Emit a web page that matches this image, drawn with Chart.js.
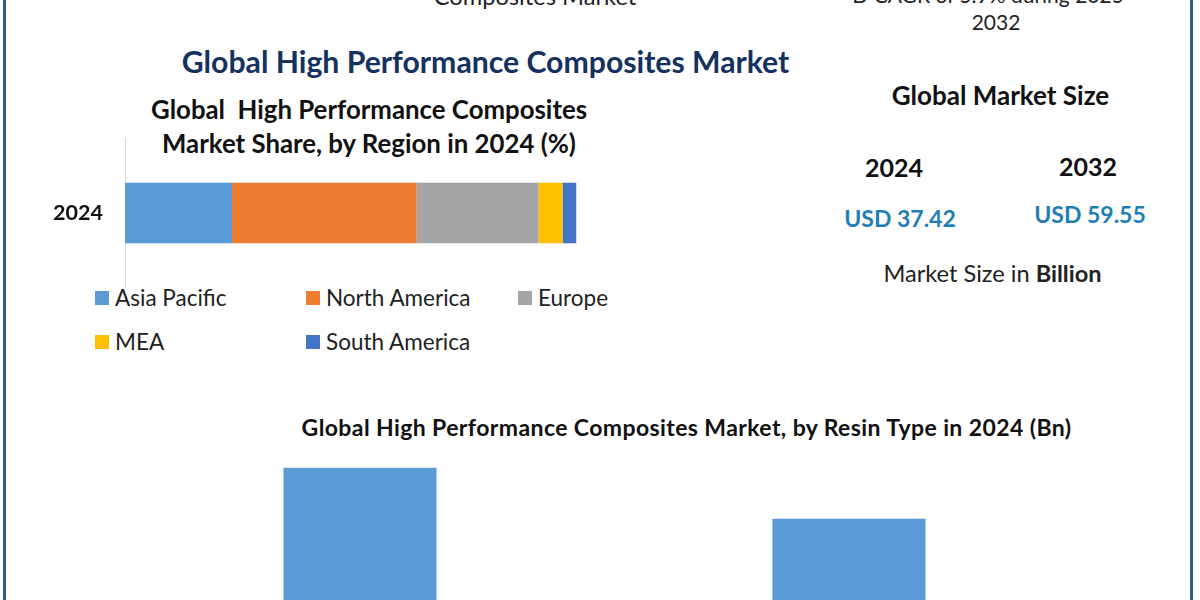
<!DOCTYPE html>
<html>
<head>
<meta charset="utf-8">
<script src="https://cdn.jsdelivr.net/npm/chart.js@4"></script>
<style>
  html, body { margin: 0; padding: 0; width: 1200px; height: 600px; overflow: hidden; background: #fff; }
  body { position: relative; font-family: Lato, sans-serif; color: #222; }
  .frame { position: absolute; top: 0; width: 3px; height: 600px; background: #2f5f82; }
  .txt { position: absolute; white-space: nowrap; transform: translate(-50%, -50%); }
  .lg { position: absolute; width: 14px; height: 14px; transform: translateY(-50%); }
  canvas { position: absolute; }
</style>
</head>
<body>
<div class="frame" style="left:3px"></div>
<div class="frame" style="left:1190px"></div>

<div class="txt" style="left:535px;top:-4px;font-size:23.7px">Composites Market</div>
<div class="txt" style="left:992px;top:-6px;font-size:21px">D CAGR of 5.9% during 2025-</div>
<div class="txt" style="left:996px;top:21px;font-size:21px">2032</div>
<div class="txt" style="left:485.5px;top:61px;font-size:30.2px;font-weight:700;color:#14315f">Global High Performance Composites Market</div>
<div class="txt" style="left:1000.5px;top:95px;font-size:26px;font-weight:700;color:#111">Global Market Size</div>
<div class="txt" style="left:894px;top:167px;font-size:25px;font-weight:700;color:#111">2024</div>
<div class="txt" style="left:1088px;top:166px;font-size:25px;font-weight:700;color:#111">2032</div>
<div class="txt" style="left:900px;top:218px;font-size:23px;font-weight:700;color:#1f7fb5">USD 37.42</div>
<div class="txt" style="left:1090px;top:214px;font-size:23px;font-weight:700;color:#1f7fb5">USD 59.55</div>
<div class="txt" style="left:992.5px;top:273px;font-size:23.6px">Market Size in <b>Billion</b></div>
<div class="txt" style="left:369px;top:109px;font-size:25.8px;font-weight:700;color:#111">Global &nbsp;High Performance Composites</div>
<div class="txt" style="left:369px;top:143px;font-size:25.8px;font-weight:700;color:#111">Market Share, by Region in 2024 (%)</div>
<div class="txt" style="left:686.5px;top:427px;font-size:23px;font-weight:700;color:#111;letter-spacing:0.4px">Global High Performance Composites Market, by Resin Type in 2024 (Bn)</div>

<div id="legend"></div>
<canvas id="regionChart" style="left:0;top:104px"></canvas>
<canvas id="resinChart" style="left:0;top:451px"></canvas>

<script>
// region share
var regionYears = ['2024'];
var regionNames = ['Asia Pacific', 'North America', 'Europe', 'MEA', 'South America'];
var regionShares = [23.7, 40.9, 27.0, 5.3, 3.1];
var regionColors = ['#5b9bd5', '#ed7d31', '#a5a5a5', '#ffc000', '#4472c4'];

// resin type bars, the picture crops them so the values are estimates
var resinTypes = ['', ''];
var resinValues = [22.5, 14.9];
var resinColor = '#5b9bd5';

var fontName = 'Lato, sans-serif';

function sizeCanvas(id, w, h) {
  var c = document.getElementById(id);
  c.style.width = w + 'px';
  c.style.height = h + 'px';
  return c;
}

var regionDatasets = regionNames.map(function(name, i) {
  return {
    label: name,
    data: [regionShares[i]],
    backgroundColor: regionColors[i],
    barPercentage: 0.408,
    categoryPercentage: 1
  };
});

// canvas is taller than the plot: the y axis keeps tick padding above and below it
var chartRegion = new Chart(sizeCanvas('regionChart', 600, 218), {
  type: 'bar',
  data: { labels: regionYears, datasets: regionDatasets },
  options: {
    indexAxis: 'y',
    responsive: false,
    animation: false,
    layout: { padding: { left: 0, right: 23.5, top: 0, bottom: 0 } },
    scales: {
      x: { stacked: true, min: 0, max: 100, display: false },
      y: {
        stacked: true,
        afterFit: function(scale) { scale.width = 125; },
        grid: { display: false, drawTicks: false },
        border: { color: '#d9d9d9' },
        ticks: { color: '#111', padding: 22, font: { family: fontName, size: 21.5, weight: 'bold' } }
      }
    },
    plugins: {
      legend: { display: false },
      tooltip: { enabled: false }
    }
  }
});

// legend sits on a two row grid, so it is built by hand from the arrays
var legendSpots = [[95, 298], [306, 298], [518, 298], [95, 342], [306, 342]];
var legendBox = document.getElementById('legend');
regionNames.forEach(function(name, i) {
  var box = document.createElement('div');
  box.className = 'lg';
  box.style.left = legendSpots[i][0] + 'px';
  box.style.top = legendSpots[i][1] + 'px';
  box.style.background = regionColors[i];
  legendBox.appendChild(box);
  var label = document.createElement('div');
  label.className = 'txt';
  label.style.transform = 'translateY(-50%)';
  label.style.left = (legendSpots[i][0] + 20) + 'px';
  label.style.top = (legendSpots[i][1] - 1) + 'px';
  label.style.fontSize = '22.5px';
  label.textContent = name;
  legendBox.appendChild(label);
});

var chartResin = new Chart(sizeCanvas('resinChart', 1200, 168), {
  type: 'bar',
  data: {
    labels: resinTypes,
    datasets: [{
      data: resinValues,
      backgroundColor: resinColor,
      barPercentage: 0.313,
      categoryPercentage: 1
    }]
  },
  options: {
    responsive: false,
    animation: false,
    layout: { padding: { left: 115.5, right: 106.5, top: 0, bottom: 0 } },
    scales: {
      x: { display: false },
      y: { min: 0, max: 25, display: false }
    },
    plugins: {
      legend: { display: false },
      tooltip: { enabled: false }
    }
  }
});
</script>
</body>
</html>
